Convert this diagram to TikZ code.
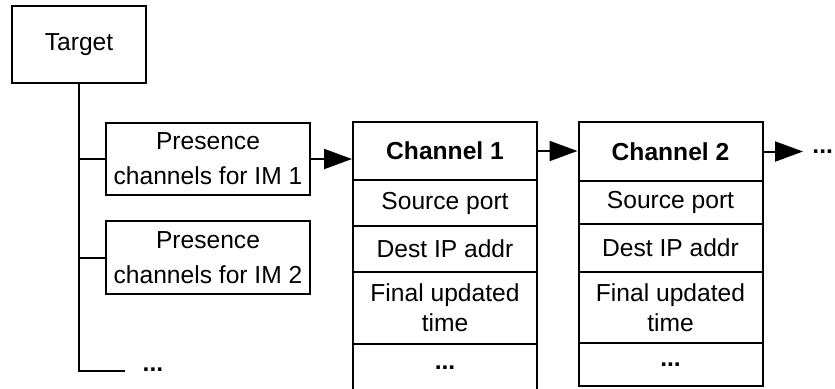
\documentclass[tikz,border=0pt]{standalone}
\usepackage{fontspec}
\setmainfont{Liberation Sans}
\usetikzlibrary{arrows.meta}
\pgfdeclarelayer{edgelayer}
\pgfdeclarelayer{nodelayer}
\pgfsetlayers{edgelayer,nodelayer,main}
\tikzstyle{none}=[inner sep=0pt, font=\bfseries\fontsize{12.3pt}{15pt}\selectfont]
\tikzstyle{box}=[draw=black, line width=1pt, align=center, font=\fontsize{12.3pt}{17.5pt}\selectfont]
\tikzstyle{field}=[draw=black, line width=1pt, align=center, minimum width=92pt, font=\fontsize{12.3pt}{15pt}\selectfont]
\tikzstyle{link}=[draw=black, line width=1pt]
\tikzstyle{pointer}=[-{Triangle[length=14pt,width=10pt]}, draw=black, line width=1pt]

\begin{document}
\begin{tikzpicture}[x=0.5pt, y=-0.5pt]
	\useasboundingbox (0, 0) rectangle (835, 388);
	\begin{pgfonlayer}{nodelayer}
		\node [style=box, minimum width=67pt, minimum height=38.5pt] (0) at (79, 44.5) {Target};
		\node [style=box, minimum width=102pt, minimum height=36pt] (1) at (208, 159) {Presence\\channels for IM 1};
		\node [style=box, minimum width=102pt, minimum height=36.5pt] (2) at (208, 257.5) {Presence\\channels for IM 2};
		\node [style=none] (3) at (153, 370) {...};
		\coordinate (4) at (79, 371);
		\coordinate (5) at (125, 371);
		\node [style=field, minimum height=29pt, font=\bfseries\fontsize{12.3pt}{15pt}\selectfont] (6) at (445, 151) {Channel 1};
		\node [style=field, minimum height=23pt] (7) at (445, 203) {Source port};
		\node [style=field, minimum height=23pt] (8) at (445, 249) {Dest IP addr};
		\node [style=field, minimum height=36pt] (9) at (445, 308) {Final updated\\time};
		\node [style=field, minimum height=24pt] (10) at (445, 368) {\bfseries ...};
		\node [style=field, minimum height=29.5pt, font=\bfseries\fontsize{12.3pt}{15pt}\selectfont] (11) at (670.5, 151.5) {Channel 2};
		\node [style=field, minimum height=21.5pt] (12) at (670.5, 202.5) {Source port};
		\node [style=field, minimum height=24pt] (13) at (670.5, 248) {Dest IP addr};
		\node [style=field, minimum height=35.5pt] (14) at (670.5, 307.5) {Final updated\\time};
		\node [style=field, minimum height=21.5pt] (15) at (670.5, 364.5) {\bfseries ...};
		\node [style=none, anchor=west] (16) at (812, 152) {...};
	\end{pgfonlayer}
	\begin{pgfonlayer}{edgelayer}
		\draw [style=link] (0) to (4) to (5);
		\draw [style=link] (1.west -| 4) to (1.west);
		\draw [style=link] (2.west -| 4) to (2.west);
		\draw [style=pointer] (1.east) to (1.east -| 6.west);
		\draw [style=pointer] (6.east) to (6.east -| 11.west);
		\draw [style=pointer, shorten >=4.5pt] (11.east) to (11.east -| 16.west);
	\end{pgfonlayer}
\end{tikzpicture}
\end{document}
